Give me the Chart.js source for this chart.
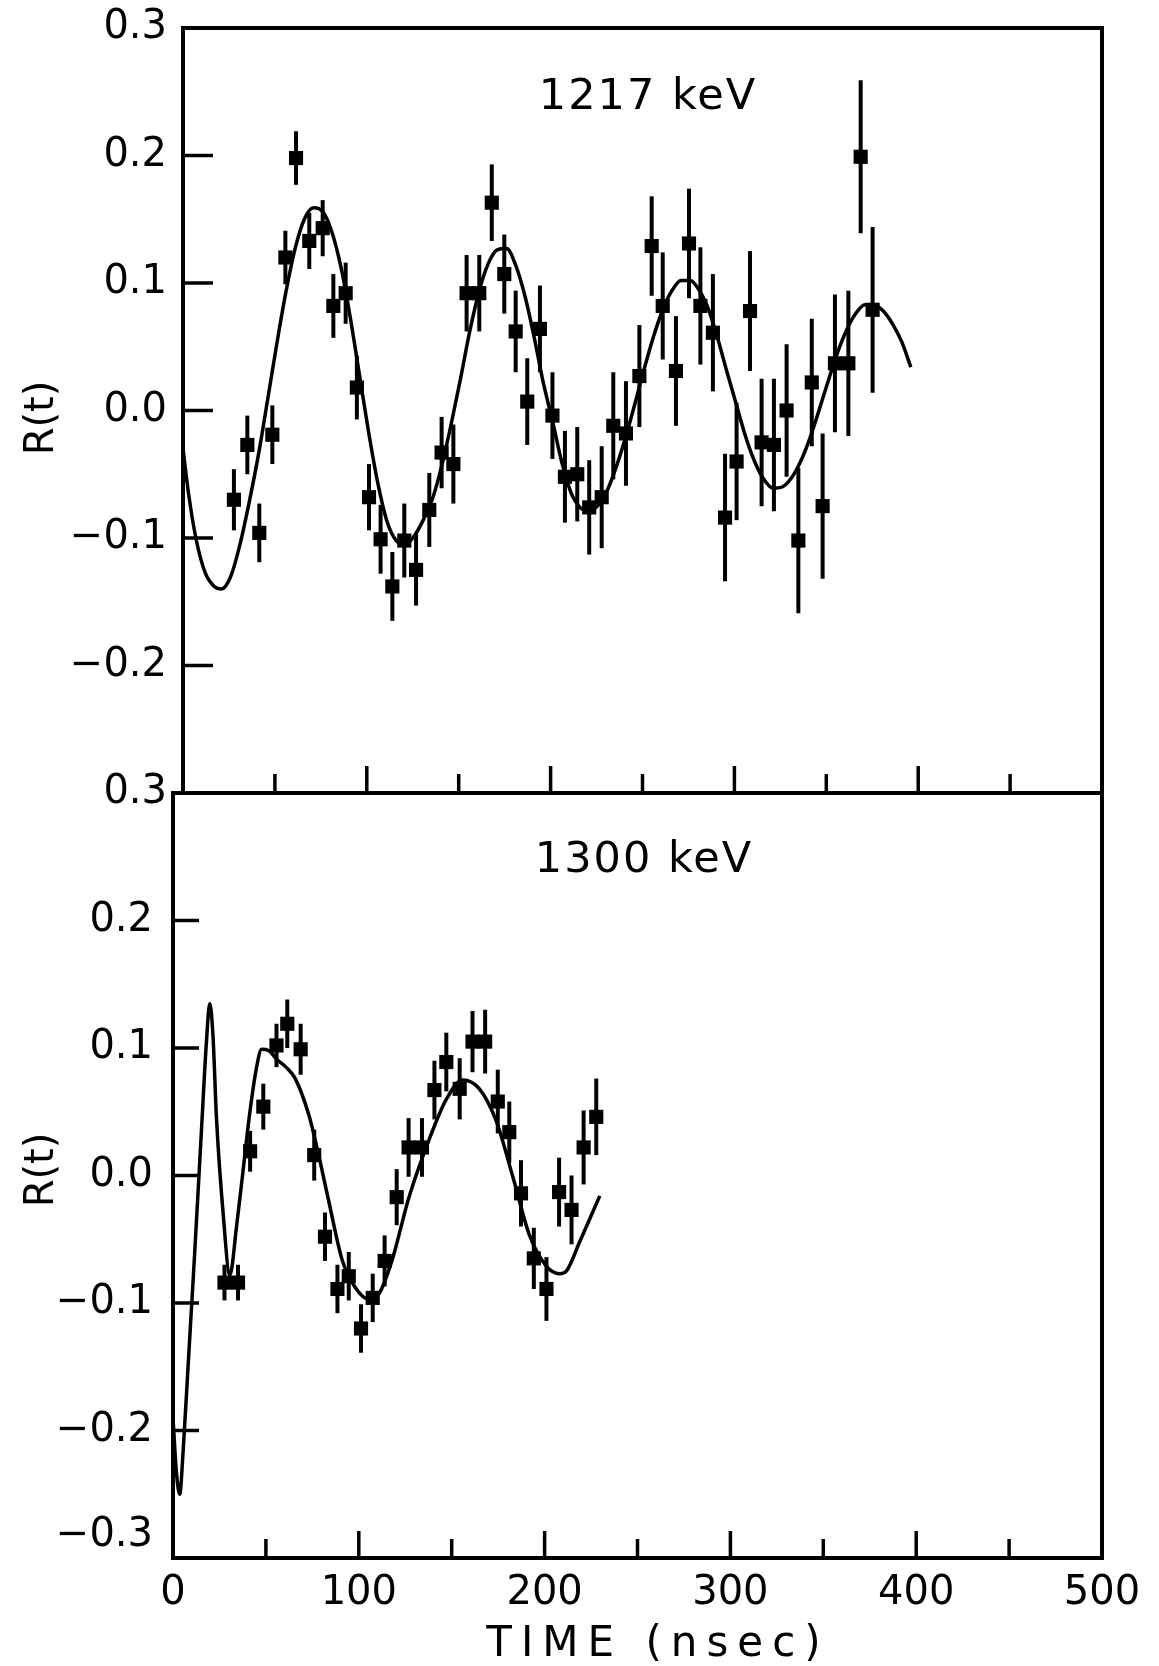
<!DOCTYPE html>
<html>
<head>
<meta charset="utf-8">
<title>R(t) 1217 keV / 1300 keV</title>
<script src="https://cdn.jsdelivr.net/npm/chart.js@4.4.1/dist/chart.umd.min.js"></script>
<style>
  html, body { margin: 0; padding: 0; background: #fff; }
  #wrap { position: relative; width: 1159px; height: 1666px; }
  #wrap canvas { position: absolute; left: 0; top: 0; }
</style>
</head>
<body>
<div id="wrap">
  <canvas id="chart1217" width="1159" height="1666"></canvas>
  <canvas id="chart1300" width="1159" height="1666"></canvas>
</div>
<script>
// ---- 1217 keV: measured points (ns, R, error) ----
const time1217 = [27.7, 35.0, 41.5, 48.6, 55.7, 61.5, 68.7, 76.0, 81.8, 88.5,
  94.6, 101.2, 107.5, 113.9, 120.4, 126.8, 134.0, 140.7, 147.1, 154.3,
  161.2, 168.0, 174.8, 181.0, 187.3, 194.2, 201.0, 207.8, 214.5, 221.0,
  227.8, 234.1, 241.0, 248.3, 255.0, 261.0, 268.2, 275.3, 281.5, 288.3,
  294.9, 301.2, 308.5, 314.8, 321.5, 328.4, 334.8, 342.1, 348.0, 354.7,
  362.0, 368.7, 375.2];
const r1217 = [-0.070, -0.027, -0.096, -0.019, 0.120, 0.198, 0.133, 0.143, 0.082, 0.092,
  0.018, -0.068, -0.101, -0.138, -0.102, -0.125, -0.078, -0.033, -0.042, 0.092,
  0.092, 0.163, 0.107, 0.062, 0.007, 0.064, -0.004, -0.052, -0.050, -0.076,
  -0.068, -0.012, -0.018, 0.027, 0.129, 0.082, 0.031, 0.131, 0.082, 0.061,
  -0.084, -0.040, 0.078, -0.025, -0.027, 0.000, -0.102, 0.022, -0.075, 0.037,
  0.037, 0.199, 0.079];
const err1217 = [0.024, 0.023, 0.023, 0.023, 0.021, 0.021, 0.022, 0.022, 0.025, 0.024,
  0.025, 0.026, 0.027, 0.027, 0.029, 0.028, 0.029, 0.028, 0.031, 0.030,
  0.030, 0.030, 0.031, 0.032, 0.034, 0.034, 0.034, 0.036, 0.037, 0.037,
  0.040, 0.042, 0.041, 0.040, 0.039, 0.042, 0.043, 0.043, 0.046, 0.046,
  0.050, 0.046, 0.047, 0.050, 0.052, 0.052, 0.057, 0.050, 0.057, 0.054,
  0.057, 0.060, 0.065];

// fitted curve, 1217 keV
const fitTime1217 = [0, 3, 7, 12, 17, 21, 26, 31, 36, 41, 46, 51, 56, 61, 66, 71, 76, 81, 86, 91,
  96, 101, 106, 111, 116, 121, 126, 131, 136, 141, 146, 151, 156, 161, 166, 171, 176, 181, 186, 191,
  196, 201, 206, 211, 216, 221, 226, 231, 236, 241, 246, 251, 256, 261, 266, 271, 276, 281, 286, 291,
  296, 301, 306, 311, 316, 321, 326, 331, 336, 341, 346, 351, 356, 361, 366, 371, 376, 381, 386, 391, 396];
const fitR1217 = [-0.030, -0.065, -0.100, -0.127, -0.138, -0.140, -0.130, -0.105, -0.072, -0.035,
  0.008, 0.052, 0.093, 0.127, 0.150, 0.159, 0.156, 0.140, 0.112, 0.073,
  0.028, -0.017, -0.057, -0.087, -0.102, -0.105, -0.098, -0.085, -0.068, -0.042,
  -0.010, 0.025, 0.062, 0.093, 0.115, 0.126, 0.127, 0.114, 0.090, 0.058,
  0.022, -0.008, -0.040, -0.064, -0.076, -0.079, -0.074, -0.062, -0.043, -0.020,
  0.006, 0.033, 0.058, 0.079, 0.094, 0.102, 0.102, 0.094, 0.079, 0.056,
  0.030, 0.005, -0.020, -0.040, -0.054, -0.061, -0.060, -0.053, -0.040, -0.022,
  0.000, 0.023, 0.045, 0.063, 0.076, 0.083, 0.083, 0.078, 0.068, 0.054, 0.034];

// ---- 1300 keV ----
const time1300 = [27.7, 35.0, 41.5, 48.6, 55.7, 61.5, 68.7, 76.0, 81.8, 88.5,
  94.6, 101.2, 107.5, 113.9, 120.4, 126.8, 134.0, 140.7, 147.1, 154.3,
  161.2, 168.0, 174.8, 181.0, 187.3, 194.2, 201.0, 207.8, 214.5, 221.0, 227.8];
const r1300 = [-0.084, -0.084, 0.019, 0.054, 0.102, 0.119, 0.099, 0.016, -0.048, -0.089,
  -0.079, -0.120, -0.096, -0.067, -0.017, 0.022, 0.022, 0.067, 0.089, 0.068,
  0.105, 0.105, 0.058, 0.034, -0.014, -0.065, -0.089, -0.013, -0.027, 0.022, 0.046];
const err1300 = [0.014, 0.014, 0.016, 0.018, 0.017, 0.019, 0.020, 0.020, 0.019, 0.019,
  0.019, 0.019, 0.019, 0.020, 0.022, 0.023, 0.023, 0.023, 0.023, 0.024,
  0.024, 0.025, 0.025, 0.024, 0.026, 0.024, 0.025, 0.027, 0.027, 0.029, 0.030];

const fitTime1300 = [0, 1.8, 3.6, 5.5, 8.1, 11.7, 15.3, 18, 19.8, 21.5, 23.4, 27, 30.6, 34.2, 37.8,
  41.4, 45, 47.7, 51.4, 55.9, 60.8, 65.8, 73, 78.4, 83.8, 91, 98.2, 105.4, 110.8, 118,
  127, 137.8, 146.8, 155.9, 164.9, 173.9, 182.9, 191.9, 200.9, 208.1, 211.7, 218.9, 229.7];
const fitR1300 = [-0.190, -0.232, -0.250, -0.215, -0.150, -0.060, 0.035, 0.105, 0.135, 0.110,
  0.045, -0.030, -0.078, -0.040, 0.005, 0.050, 0.085, 0.099, 0.098, 0.091,
  0.085, 0.076, 0.048, 0.016, -0.020, -0.066, -0.088, -0.097, -0.093, -0.066,
  -0.017, 0.028, 0.059, 0.075, 0.068, 0.043, -0.001, -0.047, -0.071, -0.077,
  -0.075, -0.052, -0.016];

// ---- axis ticks / labels ----
const yTickMarks = [0.2, 0.1, 0.0, -0.1, -0.2];
const yLabelValues1217 = [0.3, 0.2, 0.1, 0.0, -0.1, -0.2, -0.3];
const yLabelText1217 = ['0.3', '0.2', '0.1', '0.0', '\u22120.1', '\u22120.2', '0.3'];
const yLabelValues1300 = [0.2, 0.1, 0.0, -0.1, -0.2, -0.3];
const yLabelText1300 = ['0.2', '0.1', '0.0', '\u22120.1', '\u22120.2', '\u22120.3'];
const xMajorTicks = [100, 200, 300, 400];
const xMinorTicks = [50, 150, 250, 350, 450];
const xLabelValues = [0, 100, 200, 300, 400, 500];

const INK = '#000';
const FONT = '"DejaVu Sans", "Liberation Sans", sans-serif';

function toPoints(xs, ys) {
  return xs.map((t, i) => ({ x: t, y: ys[i] }));
}

// frame, inward ticks, error bars and all text for one panel
function panelPlugin(cfg) {
  return {
    id: 'panelFrame',
    beforeDatasetsDraw(chart) {
      const { ctx, scales: { x, y } } = chart;
      ctx.save();
      ctx.strokeStyle = INK;
      ctx.lineWidth = 4;
      cfg.times.forEach((t, i) => {
        const px = x.getPixelForValue(t);
        ctx.beginPath();
        ctx.moveTo(px, y.getPixelForValue(cfg.values[i] + cfg.errors[i]));
        ctx.lineTo(px, y.getPixelForValue(cfg.values[i] - cfg.errors[i]));
        ctx.stroke();
      });
      ctx.restore();
    },
    afterDraw(chart) {
      const { ctx, chartArea: a, scales: { x, y } } = chart;
      ctx.save();
      ctx.strokeStyle = INK;
      ctx.fillStyle = INK;

      ctx.lineWidth = 4;
      ctx.strokeRect(a.left, a.top, a.right - a.left, a.bottom - a.top);

      ctx.lineWidth = 3.5;
      yTickMarks.forEach(v => {
        const py = y.getPixelForValue(v);
        ctx.beginPath();
        ctx.moveTo(a.left, py);
        ctx.lineTo(a.left + cfg.yTickLen, py);
        ctx.stroke();
      });
      xMajorTicks.forEach(v => {
        const px = x.getPixelForValue(v);
        ctx.beginPath();
        ctx.moveTo(px, a.bottom);
        ctx.lineTo(px, a.bottom - 27);
        ctx.stroke();
      });
      xMinorTicks.forEach(v => {
        const px = x.getPixelForValue(v);
        ctx.beginPath();
        ctx.moveTo(px, a.bottom);
        ctx.lineTo(px, a.bottom - 19);
        ctx.stroke();
      });

      // y tick labels
      ctx.font = '40px ' + FONT;
      ctx.textAlign = 'right';
      ctx.textBaseline = 'middle';
      cfg.yLabelValues.forEach((v, i) => {
        let py = y.getPixelForValue(v);
        if (cfg.lowLabelLift && v === -0.3) py -= cfg.lowLabelLift;
        ctx.fillText(cfg.yLabelText[i], cfg.yLabelRight, py);
      });

      // x tick labels (bottom panel only)
      if (cfg.xLabels) {
        ctx.textAlign = 'center';
        xLabelValues.forEach(v => {
          ctx.fillText(String(v), x.getPixelForValue(v), a.bottom + 36);
        });
        ctx.font = '42px ' + FONT;
        ctx.letterSpacing = '9px';
        ctx.fillText('TIME (nsec)', 658, 1645);
        ctx.letterSpacing = '0px';
      }

      // panel energy label
      ctx.font = '43px ' + FONT;
      ctx.textAlign = 'center';
      ctx.letterSpacing = '2px';
      ctx.fillText(cfg.title, cfg.titleX, cfg.titleY);
      ctx.letterSpacing = '0px';

      // y-axis title
      ctx.save();
      ctx.translate(43, cfg.yTitleY);
      ctx.rotate(-Math.PI / 2);
      ctx.font = '40px ' + FONT;
      ctx.textAlign = 'center';
      ctx.fillText('R(t)', 0, 0);
      ctx.restore();

      ctx.restore();
    }
  };
}

function buildPanel(canvasId, padding, data, cfg) {
  const ctx = document.getElementById(canvasId).getContext('2d');
  return new Chart(ctx, {
    type: 'scatter',
    data: {
      datasets: [
        {
          label: 'fit',
          data: toPoints(data.fitTime, data.fitR),
          showLine: true,
          borderColor: INK,
          borderWidth: 3.5,
          pointRadius: 0,
          cubicInterpolationMode: 'monotone',
          fill: false,
        },
        {
          label: 'R(t)',
          data: toPoints(data.time, data.r),
          pointStyle: 'rect',
          pointRadius: 10,
          backgroundColor: INK,
          borderWidth: 0,
          showLine: false,
        },
      ],
    },
    options: {
      responsive: false,
      animation: false,
      devicePixelRatio: 1,
      layout: { padding: padding },
      plugins: {
        legend: { display: false },
        tooltip: { enabled: false },
      },
      scales: {
        x: { type: 'linear', min: 0, max: 500, display: false },
        y: { type: 'linear', min: -0.3, max: 0.3, display: false },
      },
    },
    plugins: [panelPlugin(cfg)],
  });
}

buildPanel('chart1217',
  { left: 183, right: 57, top: 28, bottom: 873 },
  { time: time1217, r: r1217, fitTime: fitTime1217, fitR: fitR1217 },
  {
    times: time1217, values: r1217, errors: err1217,
    yTickLen: 30,
    yLabelValues: yLabelValues1217, yLabelText: yLabelText1217, yLabelRight: 167,
    xLabels: false,
    title: '1217 keV', titleX: 648, titleY: 98,
    yTitleY: 418,
  });

buildPanel('chart1300',
  { left: 173, right: 57, top: 793, bottom: 108 },
  { time: time1300, r: r1300, fitTime: fitTime1300, fitR: fitR1300 },
  {
    times: time1300, values: r1300, errors: err1300,
    yTickLen: 26,
    yLabelValues: yLabelValues1300, yLabelText: yLabelText1300, yLabelRight: 153,
    lowLabelLift: 22,
    xLabels: true,
    title: '1300 keV', titleX: 644, titleY: 861,
    yTitleY: 1170,
  });
</script>
</body>
</html>
